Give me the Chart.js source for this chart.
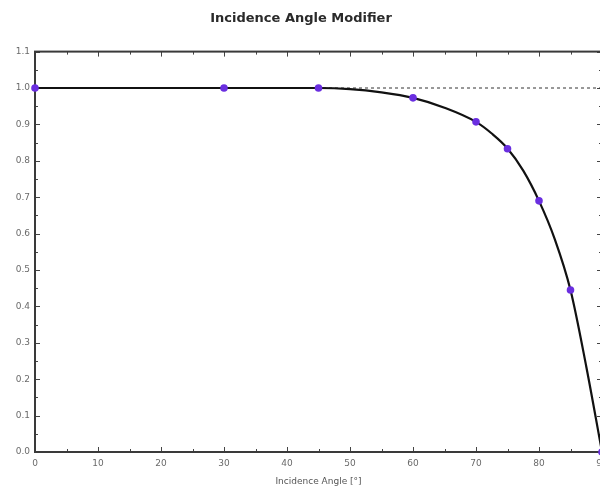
<!DOCTYPE html>
<html>
<head>
<meta charset="utf-8">
<script src="https://cdn.jsdelivr.net/npm/chart.js@4.4.1/dist/chart.umd.min.js"></script>
<style>
  html, body { margin: 0; padding: 0; background: #fff; overflow: hidden; }
  canvas { display: block; }
</style>
</head>
<body>
<canvas id="c" width="612" height="489"></canvas>
<script>
// Measured IAM points (markers)
const markerAngles = [0, 30, 45, 60, 70, 75, 80, 85, 90];
const markerIAM    = [1.0, 1.0, 1.0, 0.973, 0.907, 0.833, 0.690, 0.445, 0.0];

// Fitted IAM curve
const curveAngles = [0, 10, 20, 30, 40, 45, 50, 55, 60, 65, 70, 72.5, 75, 77.5, 80, 82.5, 85, 87.5, 90];
const curveIAM    = [1.0, 1.0, 1.0, 1.0, 1.0, 1.0, 0.997, 0.988, 0.973, 0.946, 0.907, 0.875, 0.834, 0.773, 0.690, 0.585, 0.445, 0.235, 0.0];

// Reference line at IAM = 1
const refAngles = [0, 90];
const refIAM    = [1.0, 1.0];

const xTickStep = 10;
const yTickStep = 0.1;
const chartTitle = 'Incidence Angle Modifier';
const xTitle = 'Incidence Angle [°]';

const toXY = (xs, ys) => xs.map((x, i) => ({ x: x, y: ys[i] }));

const framePlugin = {
  id: 'frame',
  beforeDatasetsDraw(chart) {
    const { ctx, chartArea: a, scales: { x, y } } = chart;
    ctx.save();
    ctx.strokeStyle = '#444';
    ctx.lineWidth = 1;
    for (let v = 0; v <= 90; v += 5) {
      const px = Math.round(x.getPixelForValue(v)) + 0.5;
      const len = (v % 10 === 0) ? 5 : 3;
      ctx.beginPath();
      ctx.moveTo(px, a.bottom); ctx.lineTo(px, a.bottom - len);
      ctx.moveTo(px, a.top); ctx.lineTo(px, a.top + len);
      ctx.stroke();
    }
    for (let i = 0; i <= 22; i++) {
      const v = i * 0.05;
      const py = Math.round(y.getPixelForValue(v)) + 0.5;
      const len = (i % 2 === 0) ? 5 : 3;
      ctx.beginPath();
      ctx.moveTo(a.left, py); ctx.lineTo(a.left + len, py);
      ctx.moveTo(a.right, py); ctx.lineTo(a.right - len, py);
      ctx.stroke();
    }
    ctx.lineWidth = 2;
    ctx.strokeStyle = '#3a3a3a';
    ctx.strokeRect(a.left, a.top, a.right - a.left, a.bottom - a.top);
    ctx.restore();
  }
};

new Chart(document.getElementById('c'), {
  type: 'scatter',
  data: {
    datasets: [
      {
        label: 'Measured',
        data: toXY(markerAngles, markerIAM),
        showLine: false,
        pointRadius: 3.8,
        pointBackgroundColor: '#6a2ee0',
        pointBorderColor: '#6a2ee0',
        pointBorderWidth: 0,
        clip: false
      },
      {
        label: 'IAM',
        data: toXY(curveAngles, curveIAM),
        showLine: true,
        borderColor: '#111',
        borderWidth: 2.2,
        pointRadius: 0,
        cubicInterpolationMode: 'monotone',
        clip: false
      },
      {
        label: 'Reference',
        data: toXY(refAngles, refIAM),
        showLine: true,
        borderColor: '#333',
        borderWidth: 1,
        borderDash: [3, 3],
        pointRadius: 0,
        clip: false
      }
    ]
  },
  options: {
    responsive: false,
    devicePixelRatio: 1,
    animation: false,
    layout: { padding: { left: 0, right: 10, top: 0, bottom: 0 } },
    plugins: {
      legend: { display: false },
      tooltip: { enabled: false },
      title: {
        display: true,
        text: chartTitle,
        color: '#2a2a2a',
        font: { family: 'DejaVu Sans', size: 13, weight: 'bold', lineHeight: 1.2 },
        padding: { top: 11, bottom: 25 }
      }
    },
    scales: {
      x: {
        type: 'linear',
        min: 0, max: 90,
        grid: { display: false, drawTicks: false },
        border: { display: false },
        ticks: {
          stepSize: xTickStep,
          color: '#6a6a6a',
          font: { family: 'DejaVu Sans', size: 9 },
          padding: 6,
          maxRotation: 0,
          autoSkip: false
        },
        title: {
          display: true,
          text: xTitle,
          color: '#555',
          font: { family: 'DejaVu Sans', size: 9 },
          padding: { top: 0, bottom: 2 }
        },
        afterFit(s) { s.height = 37; s.paddingLeft = 0; s.paddingRight = 0; }
      },
      y: {
        type: 'linear',
        min: 0, max: 1.1,
        grid: { display: false, drawTicks: false },
        border: { display: false },
        ticks: {
          stepSize: yTickStep,
          color: '#6a6a6a',
          font: { family: 'DejaVu Sans', size: 9 },
          padding: 5,
          callback: v => Number(v).toFixed(1)
        },
        afterFit(s) { s.width = 35; s.paddingTop = 0; s.paddingBottom = 0; }
      }
    }
  },
  plugins: [framePlugin]
});
</script>
</body>
</html>
